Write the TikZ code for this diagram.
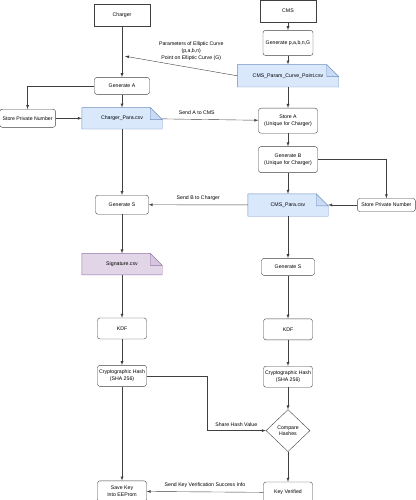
\documentclass[tikz,border=0pt]{standalone}
\usepackage{fontspec}
\setmainfont{Liberation Sans}
\usetikzlibrary{positioning,shapes.geometric,backgrounds}
\definecolor{bluefill}{HTML}{DAE8FC}
\definecolor{bluedraw}{HTML}{6C8EBF}
\definecolor{purplefill}{HTML}{E1D5E7}
\definecolor{purpledraw}{HTML}{9673A6}

\begin{document}
\begin{tikzpicture}[font=\fontsize{5.2}{6.6}\selectfont]
\tikzstyle{main}=[rectangle, rounded corners=2.5pt, draw=black!75, thin, align=center, inner sep=0pt, minimum width=49pt, minimum height=21pt]
\tikzstyle{actor}=[rectangle, draw=black!75, thin, minimum width=56pt, minimum height=22pt]
\tikzstyle{doc}=[rectangle, inner sep=0pt, minimum width=80pt, minimum height=21pt]
\tikzstyle{decide}=[diamond, draw=black!75, thin, align=center, inner sep=0pt, minimum width=44pt, minimum height=42pt]
\tikzstyle{connect}=[-latex, thin, draw=black!75]
  \useasboundingbox (0,0) rectangle (415pt,-500pt);
  \node[actor] (charger) at (122pt,-15pt) {Charger};
  \node[actor] (cms) at (288pt,-11pt) {CMS};
  % CMS side
  \node[main, minimum width=50pt, minimum height=25pt] (genparam) [below=8pt of cms] {Generate p,a,b,n,G};
  \node[doc, minimum width=101pt, minimum height=22pt] (cmsparam) [below=9pt of genparam] {CMS\_Param\_Curve\_Point.csv};
  \node[main, minimum width=59pt, minimum height=25pt] (storea) [below=21pt of cmsparam] {Store A\\(Unique for Charger)};
  \node[main, minimum width=59pt, minimum height=26pt] (genb) [below=13pt of storea] {Generate B\\(Unique for Charger)};
  \node[doc, minimum height=22pt] (cmspara) [below=21pt of genb] {CMS\_Para.csv};
  \node[main, minimum width=58pt, minimum height=13pt] (storepr) [right=29pt of cmspara] {Store Private Number};
  \node[main, minimum width=53pt, minimum height=17pt] (gensr) [below=42pt of cmspara] {Generate S};
  \node[main] (kdfr) [below=43pt of gensr] {KDF};
  \node[main] (hashr) [below=26pt of kdfr] {Cryptographic Hash\\(SHA 256)};
  \node[decide] (compare) [below=22pt of hashr] {Compare\\Hashes};
  \node[main] (verified) [below=30pt of compare] {Key Verified};
  % Charger side
  \node[main, minimum width=55pt, minimum height=17pt] (gena) [below=51pt of charger] {Generate A};
  \node[doc] (chpara) [below=13pt of gena] {Charger\_Para.csv};
  \node[main, minimum width=56pt, minimum height=18pt] (storepl) [left=26pt of chpara] {Store Private Number};
  \node[main, minimum width=53pt, minimum height=19pt] (gensl) [below=66pt of chpara] {Generate S};
  \node[doc] (sig) [below=39pt of gensl] {Signature.csv};
  \node[main] (kdfl) [below=43pt of sig] {KDF};
  \node[main] (hashl) [below=26pt of kdfl] {Cryptographic Hash\\(SHA 256)};
  \node[main] (savekey) [below=94pt of hashl] {Save Key\\Into EEProm};
  \coordinate[below=30pt of charger, xshift=3pt] (ecpoint);
  \begin{scope}[on background layer]
    \foreach \d/\f/\s in {cmsparam/bluefill/bluedraw, chpara/bluefill/bluedraw, cmspara/bluefill/bluedraw, sig/purplefill/purpledraw} {
      \filldraw[fill=\f, draw=\s, thin] (\d.north west) -- ([xshift=-12pt]\d.north east) -- ([yshift=-12pt]\d.north east) -- (\d.south east) -- (\d.south west) -- cycle;
      \filldraw[fill=\f!85!\s, draw=\s, thin] ([xshift=-12pt]\d.north east) -- ([xshift=-12pt, yshift=-12pt]\d.north east) -- ([yshift=-12pt]\d.north east) -- cycle;
    }
  \end{scope}
  \path (charger) edge [connect] (gena)
        (gena) edge [connect] (chpara)
        (storepl) edge [connect] (chpara)
        (chpara) edge [connect] (gensl)
        (gensl) edge [connect] (sig)
        (sig) edge [connect] (kdfl)
        (kdfl) edge [connect] (hashl)
        (hashl) edge [connect] (savekey)
        (cms) edge [connect] (genparam)
        (genparam) edge [connect] (cmsparam)
        (cmsparam) edge [connect] (storea)
        (storea) edge [connect] (genb)
        (genb) edge [connect] (cmspara)
        (storepr) edge [connect] (cmspara)
        (cmspara) edge [connect] (gensr)
        (gensr) edge [connect] (kdfr)
        (kdfr) edge [connect] (hashr)
        (hashr) edge [connect] (compare)
        (compare) edge [connect] (verified)
        (chpara) edge [connect] node[pos=0.36, above=1pt] {Send A to CMS} (storea)
        (cmspara) edge [connect] node[above=1pt] {Send B to Charger} (gensl)
        (verified) edge [connect] node[above=1pt] {Send Key Verification Success Info} (savekey)
        (cmsparam.west) edge [connect] node[pos=0.41, above=4pt, align=center] {Parameters of Elliptic Curve\\(p,a,b,n)\\Point on Elliptic Curve (G)} (ecpoint);
  \draw[connect] (gena.west) -| (storepl.north);
  \draw[connect] (genb.east) -| (storepr.north);
  \draw[connect] (hashl.east) -- ++(60pt,0) |- node[pos=0.75, above=1pt] {Share Hash Value} (compare.west);
\end{tikzpicture}
\end{document}
